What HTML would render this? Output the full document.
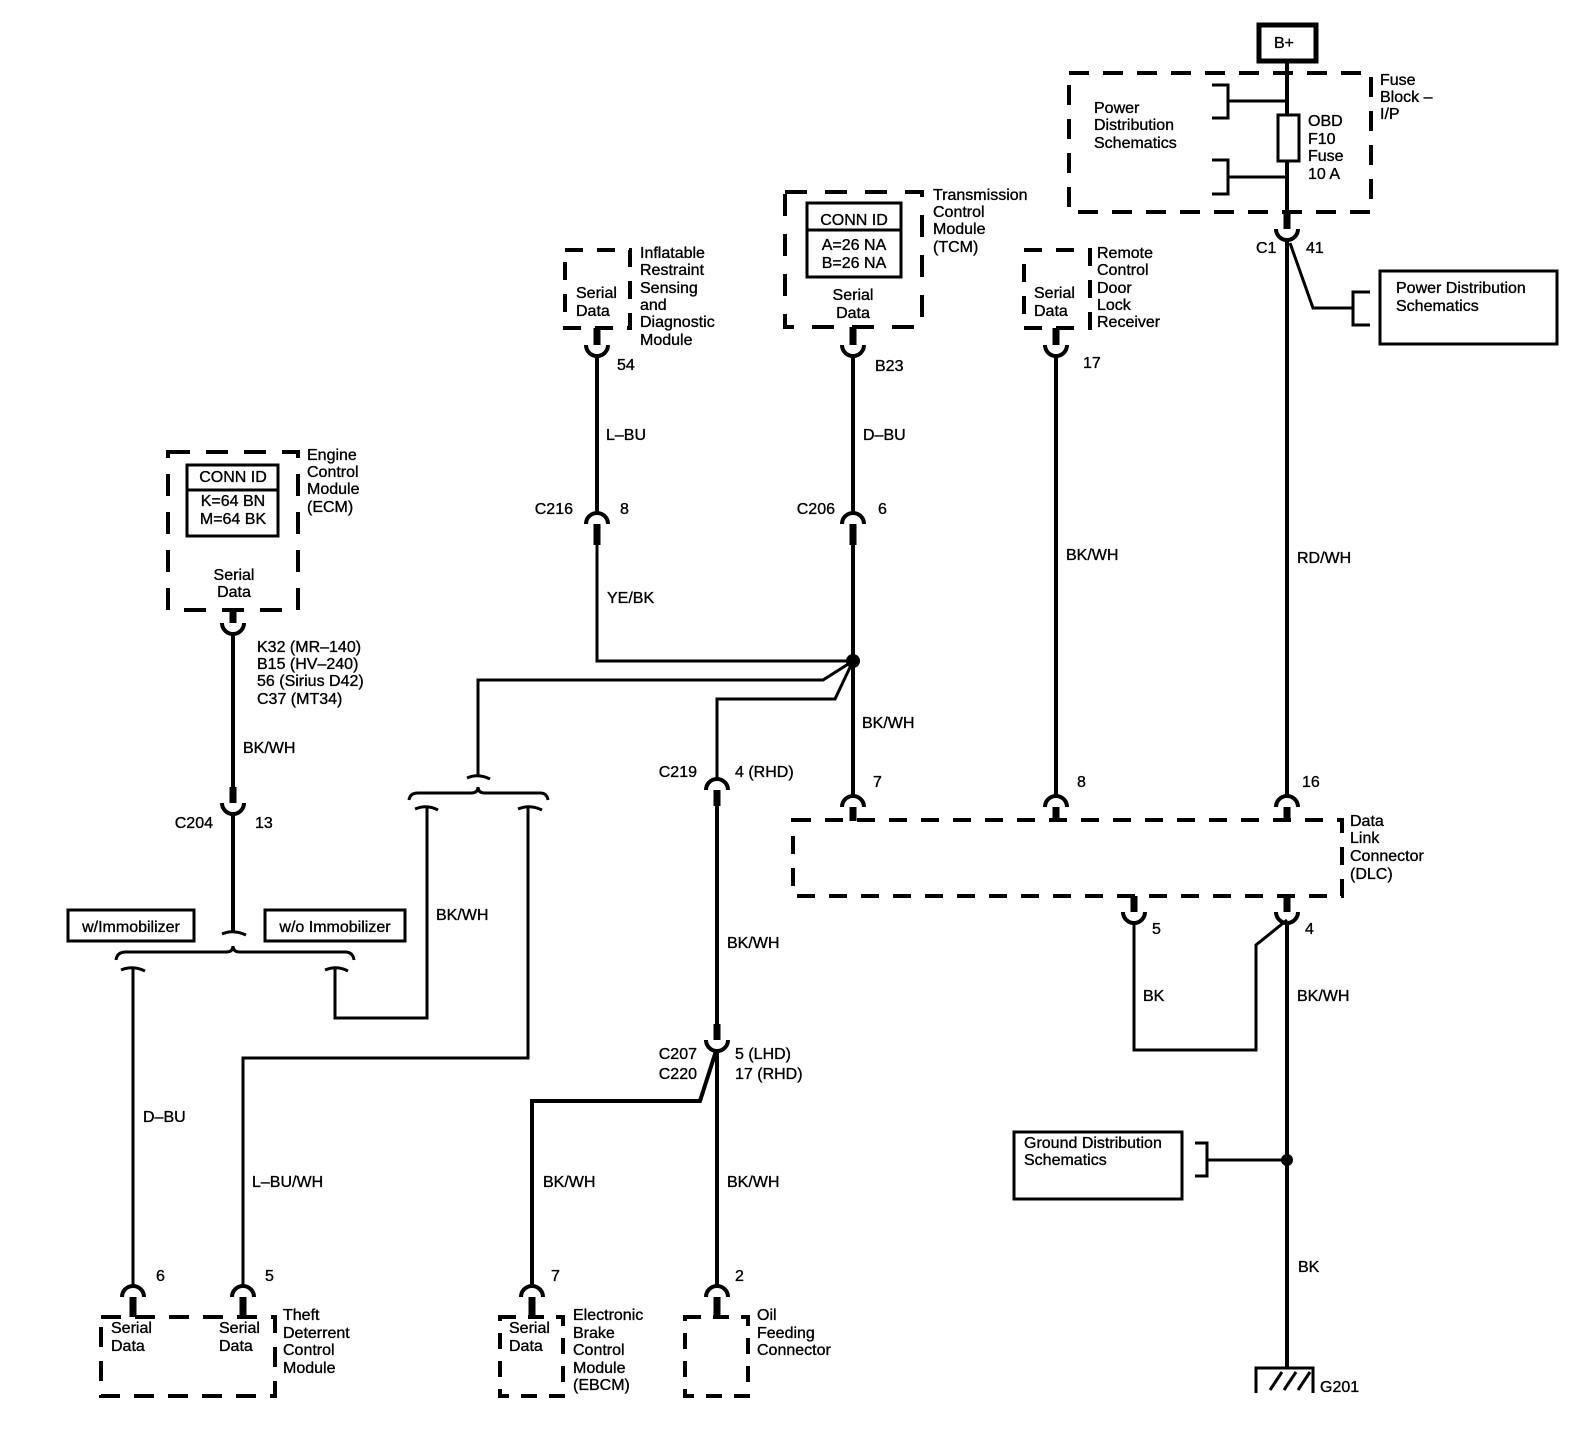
<!DOCTYPE html>
<html><head><meta charset="utf-8"><style>
html,body{margin:0;padding:0;background:#fff;}
svg{display:block;}
text{font-family:"Liberation Sans",Arial,sans-serif;font-size:16px;fill:#000;stroke:#000;stroke-width:0.35px;}
</style></head><body>
<svg width="1578" height="1440" viewBox="0 0 1578 1440" xmlns="http://www.w3.org/2000/svg">
<g fill="none" stroke="#000" stroke-width="4">
<rect x="1259" y="25" width="57" height="36" stroke-width="5"/>
<rect x="1069" y="73" width="302" height="139" stroke-dasharray="20 14"/>
<line x1="1287" y1="61" x2="1287" y2="115"/>
<rect x="1278" y="115" width="21" height="46" stroke-width="3"/>
<line x1="1287" y1="161" x2="1287" y2="212"/>
<path d="M1212,85 H1228 V118 H1212 M1228,101 H1287 M1212,160 H1228 V194 H1212 M1228,177 H1287" stroke-width="3"/>
<line x1="1287" y1="212" x2="1287" y2="229" stroke-width="7"/>
<path d="M1276,229 A11 11 0 0 0 1298,229"/>
<line x1="1287" y1="240" x2="1287" y2="796"/>
<path d="M1290,243 L1313,308 H1353 M1370,292 H1353 V325 H1370" stroke-width="3"/>
<rect x="1380" y="271" width="177" height="73" stroke-width="3"/>
<rect x="565" y="250" width="65" height="78" stroke-dasharray="18 14"/>
<line x1="597" y1="328" x2="597" y2="345" stroke-width="7"/>
<path d="M586,345 A11 11 0 0 0 608,345"/>
<line x1="597" y1="356" x2="597" y2="513"/>
<path d="M586,524 A11 11 0 0 1 608,524"/>
<line x1="597" y1="524" x2="597" y2="545" stroke-width="7"/>
<polyline points="597,545 597,661 853,661" stroke-width="3"/>
<rect x="785" y="192" width="137" height="135" stroke-dasharray="22 18"/>
<rect x="807" y="203" width="94" height="74" stroke-width="3"/>
<line x1="807" y1="230" x2="901" y2="230" stroke-width="3"/>
<line x1="853" y1="327" x2="853" y2="345" stroke-width="7"/>
<path d="M842,345 A11 11 0 0 0 864,345"/>
<line x1="853" y1="356" x2="853" y2="513"/>
<path d="M842,524 A11 11 0 0 1 864,524"/>
<line x1="853" y1="524" x2="853" y2="545" stroke-width="7"/>
<line x1="853" y1="545" x2="853" y2="796"/>
<rect x="1024" y="250" width="66" height="78" stroke-dasharray="18 14"/>
<line x1="1056" y1="328" x2="1056" y2="345" stroke-width="7"/>
<path d="M1045,345 A11 11 0 0 0 1067,345"/>
<line x1="1056" y1="356" x2="1056" y2="796"/>
<rect x="793" y="820" width="549" height="76" stroke-dasharray="18 14"/>
<path d="M842,807 A11 11 0 0 1 864,807 M1045,807 A11 11 0 0 1 1067,807 M1276,807 A11 11 0 0 1 1298,807"/>
<path d="M853,807 V821 M1056,807 V821 M1287,807 V821" stroke-width="7"/>
<path d="M1134,896 V912 M1287,896 V912" stroke-width="7"/>
<path d="M1123,912 A11 11 0 0 0 1145,912 M1276,912 A11 11 0 0 0 1298,912"/>
<line x1="1287" y1="923" x2="1287" y2="1368"/>
<polyline points="1134,923 1134,1050 1256,1050 1256,945 1287,920" stroke-width="3"/>
<circle cx="1287" cy="1160" r="6" fill="#000" stroke="none"/>
<path d="M1287,1160 H1207 M1195,1143 H1207 V1176 H1195" stroke-width="3"/>
<rect x="1014" y="1132" width="168" height="67" stroke-width="3"/>
<path d="M1256,1393 V1368 H1313 V1393 M1270,1390 L1282,1372 M1284,1390 L1296,1372 M1298,1390 L1310,1372" stroke-width="3"/>
<rect x="168" y="452" width="130" height="158" stroke-dasharray="22 16"/>
<rect x="187" y="465" width="91" height="71" stroke-width="3"/>
<line x1="187" y1="490" x2="278" y2="490" stroke-width="3"/>
<line x1="233" y1="610" x2="233" y2="623" stroke-width="7"/>
<path d="M222,623 A11 11 0 0 0 244,623"/>
<line x1="233" y1="634" x2="233" y2="787"/>
<line x1="233" y1="787" x2="233" y2="803" stroke-width="7"/>
<path d="M222,803 A11 11 0 0 0 244,803"/>
<line x1="233" y1="814" x2="233" y2="933"/>
<path d="M222,934 Q233,929 246,935" stroke-width="3"/>
<path d="M116,960 Q117,952 126,952 H226 Q233,952 233,946 Q233,952 240,952 H345 Q353,952 354,960" stroke-width="3"/>
<path d="M121,970 Q133,965 145,971 M325,970 Q337,965 348,971" stroke-width="3"/>
<line x1="133" y1="968" x2="133" y2="1286" stroke-width="3"/>
<polyline points="335,968 335,1018 427,1018 427,808" stroke-width="3"/>
<rect x="68" y="910" width="126" height="31" stroke-width="3"/>
<rect x="265" y="910" width="140" height="31" stroke-width="3"/>
<polyline points="478,777 478,680 823,680 853,661" stroke-width="3"/>
<path d="M467,778 Q478,773 490,779" stroke-width="3"/>
<path d="M409,800 Q410,793 418,793 H471 Q478,793 478,787 Q478,793 485,793 H540 Q547,793 548,800" stroke-width="3"/>
<path d="M415,809 Q427,804 438,810 M518,809 Q530,804 542,810" stroke-width="3"/>
<polyline points="528,808 528,1058 243,1058 243,1286" stroke-width="3"/>
<circle cx="853" cy="661" r="7" fill="#000" stroke="none"/>
<polyline points="717,779 717,699 835,699 853,661" stroke-width="3"/>
<path d="M706,790 A11 11 0 0 1 728,790"/>
<line x1="717" y1="790" x2="717" y2="806" stroke-width="7"/>
<line x1="717" y1="806" x2="717" y2="1024"/>
<line x1="717" y1="1024" x2="717" y2="1040" stroke-width="7"/>
<path d="M706,1040 A11 11 0 0 0 728,1040"/>
<line x1="717" y1="1051" x2="717" y2="1286"/>
<polyline points="716,1051 700,1101 532,1101 532,1286"/>
<path d="M122,1297 A11 11 0 0 1 144,1297 M232,1297 A11 11 0 0 1 254,1297 M521,1297 A11 11 0 0 1 543,1297 M706,1297 A11 11 0 0 1 728,1297"/>
<path d="M133,1297 V1317 M243,1297 V1317 M532,1297 V1317 M717,1297 V1317" stroke-width="7"/>
<rect x="101" y="1317" width="174" height="79" stroke-dasharray="20 14"/>
<rect x="500" y="1317" width="63" height="79" stroke-dasharray="16 12"/>
<rect x="685" y="1317" width="63" height="79" stroke-dasharray="16 12"/>
</g>
<g>
<text x="1274" y="48" font-size="14">B+</text>
<text x="1094" y="113">Power</text><text x="1094" y="130">Distribution</text><text x="1094" y="148">Schematics</text>
<text x="1308" y="126">OBD</text><text x="1308" y="144">F10</text><text x="1308" y="161">Fuse</text><text x="1308" y="179">10 A</text>
<text x="1380" y="85">Fuse</text><text x="1380" y="102">Block –</text><text x="1380" y="119">I/P</text>
<text x="1256" y="253">C1</text><text x="1306" y="253">41</text>
<text x="1396" y="293">Power Distribution</text><text x="1396" y="311">Schematics</text>
<text x="576" y="298">Serial</text><text x="576" y="316">Data</text>
<text x="640" y="258">Inflatable</text><text x="640" y="275">Restraint</text><text x="640" y="293">Sensing</text><text x="640" y="310">and</text><text x="640" y="327">Diagnostic</text><text x="640" y="345">Module</text>
<text x="617" y="370">54</text><text x="606" y="440">L–BU</text>
<text x="573" y="514" text-anchor="end">C216</text><text x="620" y="514">8</text>
<text x="607" y="603">YE/BK</text>
<text x="854" y="225" text-anchor="middle">CONN ID</text><text x="854" y="250" text-anchor="middle">A=26 NA</text><text x="854" y="268" text-anchor="middle">B=26 NA</text>
<text x="853" y="300" text-anchor="middle">Serial</text><text x="853" y="318" text-anchor="middle">Data</text>
<text x="933" y="200">Transmission</text><text x="933" y="217">Control</text><text x="933" y="234">Module</text><text x="933" y="252">(TCM)</text>
<text x="875" y="371">B23</text><text x="863" y="440">D–BU</text>
<text x="835" y="514" text-anchor="end">C206</text><text x="878" y="514">6</text>
<text x="862" y="728">BK/WH</text><text x="873" y="787">7</text>
<text x="1034" y="298">Serial</text><text x="1034" y="316">Data</text>
<text x="1097" y="258">Remote</text><text x="1097" y="275">Control</text><text x="1097" y="293">Door</text><text x="1097" y="310">Lock</text><text x="1097" y="327">Receiver</text>
<text x="1083" y="368">17</text><text x="1066" y="560">BK/WH</text><text x="1077" y="787">8</text>
<text x="1297" y="563">RD/WH</text><text x="1302" y="787">16</text>
<text x="1350" y="826">Data</text><text x="1350" y="843">Link</text><text x="1350" y="861">Connector</text><text x="1350" y="879">(DLC)</text>
<text x="1152" y="934">5</text><text x="1305" y="934">4</text>
<text x="1143" y="1001">BK</text><text x="1297" y="1001">BK/WH</text>
<text x="1024" y="1148">Ground Distribution</text><text x="1024" y="1165">Schematics</text>
<text x="1298" y="1272">BK</text><text x="1320" y="1392">G201</text>
<text x="233" y="482" text-anchor="middle">CONN ID</text><text x="233" y="506" text-anchor="middle">K=64 BN</text><text x="233" y="524" text-anchor="middle">M=64 BK</text>
<text x="234" y="580" text-anchor="middle">Serial</text><text x="234" y="597" text-anchor="middle">Data</text>
<text x="307" y="460">Engine</text><text x="307" y="477">Control</text><text x="307" y="494">Module</text><text x="307" y="512">(ECM)</text>
<text x="257" y="652">K32 (MR–140)</text><text x="257" y="669">B15 (HV–240)</text><text x="257" y="686">56 (Sirius D42)</text><text x="257" y="704">C37 (MT34)</text>
<text x="243" y="753">BK/WH</text>
<text x="213" y="828" text-anchor="end">C204</text><text x="255" y="828">13</text>
<text x="131" y="932" text-anchor="middle">w/Immobilizer</text><text x="335" y="932" text-anchor="middle">w/o Immobilizer</text>
<text x="436" y="920">BK/WH</text>
<text x="143" y="1122">D–BU</text><text x="252" y="1187">L–BU/WH</text>
<text x="697" y="777" text-anchor="end">C219</text><text x="735" y="777">4 (RHD)</text>
<text x="727" y="948">BK/WH</text>
<text x="697" y="1059" text-anchor="end">C207</text><text x="697" y="1079" text-anchor="end">C220</text>
<text x="735" y="1059">5 (LHD)</text><text x="735" y="1079">17 (RHD)</text>
<text x="543" y="1187">BK/WH</text><text x="727" y="1187">BK/WH</text>
<text x="156" y="1281">6</text><text x="265" y="1281">5</text><text x="551" y="1281">7</text><text x="735" y="1281">2</text>
<text x="111" y="1333">Serial</text><text x="111" y="1351">Data</text>
<text x="219" y="1333">Serial</text><text x="219" y="1351">Data</text>
<text x="283" y="1320">Theft</text><text x="283" y="1338">Deterrent</text><text x="283" y="1355">Control</text><text x="283" y="1373">Module</text>
<text x="509" y="1333">Serial</text><text x="509" y="1351">Data</text>
<text x="573" y="1320">Electronic</text><text x="573" y="1338">Brake</text><text x="573" y="1355">Control</text><text x="573" y="1373">Module</text><text x="573" y="1390">(EBCM)</text>
<text x="757" y="1320">Oil</text><text x="757" y="1338">Feeding</text><text x="757" y="1355">Connector</text>
</g>
</svg>
</body></html>
